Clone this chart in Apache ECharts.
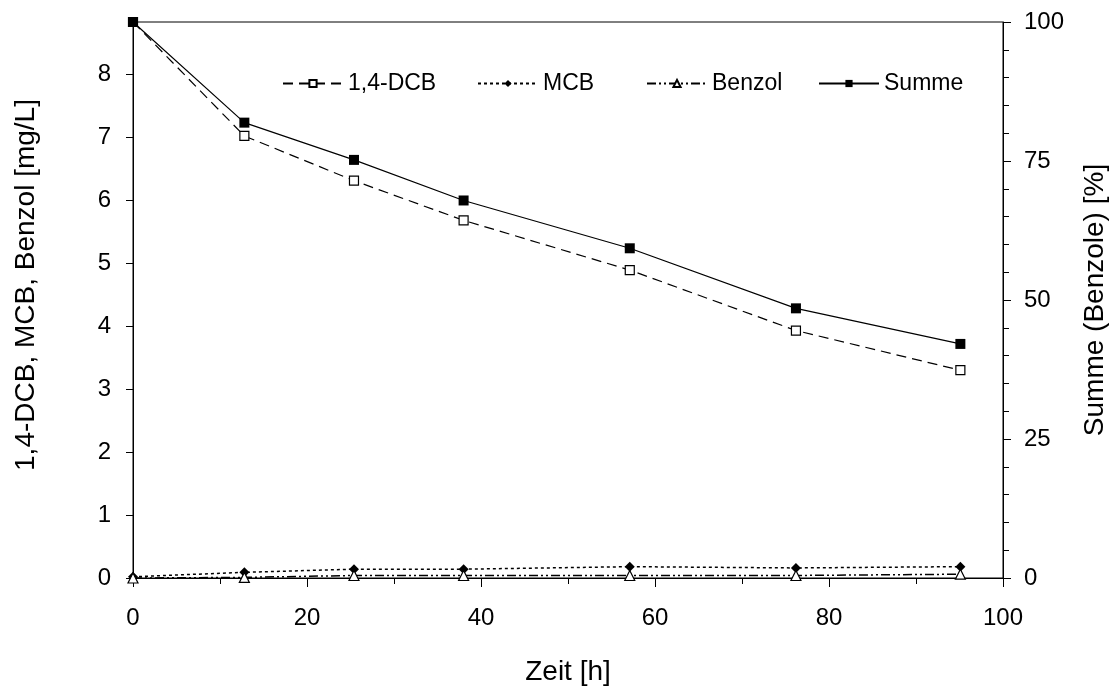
<!DOCTYPE html>
<html>
<head>
<meta charset="utf-8">
<script src="https://cdn.jsdelivr.net/npm/echarts@6/dist/echarts.min.js"></script>
<style>
html,body{margin:0;padding:0;background:#fff;}
#chart{width:1114px;height:693px;}
</style>
</head>
<body>
<div id="chart"></div>
<script>
// Data
var zeit = [0, 12.8, 25.4, 38.0, 57.1, 76.2, 95.1];
var dcb = [8.83, 7.02, 6.31, 5.68, 4.89, 3.93, 3.30];
var mcb = [0.02, 0.09, 0.14, 0.14, 0.18, 0.16, 0.18];
var benzol = [0.00, 0.01, 0.04, 0.04, 0.04, 0.04, 0.06];
var summe = [100, 81.9, 75.2, 67.9, 59.3, 48.5, 42.1];
var seriesNames = ['1,4-DCB', 'MCB', 'Benzol', 'Summe'];
var xTitle = 'Zeit [h]';
var yLeftTitle = '1,4-DCB, MCB, Benzol [mg/L]';
var yRightTitle = 'Summe (Benzole) [%]';

function pairs(xs, ys) { return xs.map(function (x, i) { return [x, ys[i]]; }); }

var font = 'Liberation Sans, Arial, sans-serif';
var legendLefts = [282, 477, 646, 818];
var legends = seriesNames.map(function (n, i) {
  return {
    data: [n],
    left: legendLefts[i], top: 72, padding: 0,
    itemWidth: 60, itemHeight: 9, itemGap: 0,
    textStyle: {fontFamily: font, fontSize: 23, color: '#000'},
    inactiveColor: '#000', selectedMode: false
  };
});

var chart = echarts.init(document.getElementById('chart'), null, {renderer: 'canvas'});
chart.setOption({
  animation: false,
  backgroundColor: '#fff',
  textStyle: {fontFamily: font, color: '#000'},
  grid: {left: 133, right: 111, top: 22, bottom: 115, outerBoundsMode: 'none', containLabel: false,
    show: true, borderColor: '#000', borderWidth: 1, backgroundColor: 'transparent'},
  legend: legends,
  xAxis: {
    type: 'value', min: 0, max: 100, interval: 20,
    name: xTitle, nameLocation: 'middle', nameGap: 80,
    nameTextStyle: {fontFamily: font, fontSize: 28, color: '#000'},
    axisLine: {show: true, onZero: false, lineStyle: {color: '#000', width: 1}},
    axisTick: {show: true, inside: false, length: 9, lineStyle: {color: '#000'}},
    minorTick: {show: true, splitNumber: 2, length: 6, lineStyle: {color: '#000'}},
    splitLine: {show: false},
    axisLabel: {fontFamily: font, fontSize: 24, color: '#000', margin: 28}
  },
  yAxis: [{
    type: 'value', min: 0, max: 8.83, interval: 1, position: 'left',
    name: yLeftTitle, nameLocation: 'middle', nameGap: 93, nameRotate: 90,
    nameTextStyle: {fontFamily: font, fontSize: 28, color: '#000', padding: [0, 0, 0, 30]},
    axisLine: {show: true, onZero: false, lineStyle: {color: '#000', width: 1}},
    axisTick: {show: true, inside: false, length: 7, lineStyle: {color: '#000'}},
    splitLine: {show: false},
    axisLabel: {fontFamily: font, fontSize: 24, color: '#000', margin: 22, showMaxLabel: false,
      formatter: function (v) { return Math.abs(v - Math.round(v)) < 1e-6 ? String(Math.round(v)) : ''; }}
  }, {
    type: 'value', min: 0, max: 100, interval: 25, position: 'right',
    name: yRightTitle, nameLocation: 'middle', nameGap: 78, nameRotate: 90,
    nameTextStyle: {fontFamily: font, fontSize: 28, color: '#000'},
    axisLine: {show: true, onZero: false, lineStyle: {color: '#000', width: 1}},
    axisTick: {show: true, inside: false, length: 8, lineStyle: {color: '#000'}},
    minorTick: {show: true, splitNumber: 5, length: 6, lineStyle: {color: '#000'}},
    splitLine: {show: false},
    axisLabel: {fontFamily: font, fontSize: 24, color: '#000', margin: 21}
  }],
  series: [{
    name: seriesNames[0], type: 'line', yAxisIndex: 0,
    data: pairs(zeit, dcb),
    symbol: 'rect', symbolSize: 9, showAllSymbol: true,
    lineStyle: {color: '#000', width: 1.2, type: [10, 6]},
    itemStyle: {color: '#fff', borderColor: '#000', borderWidth: 1.2},
    z: 3
  }, {
    name: seriesNames[1], type: 'line', yAxisIndex: 0,
    data: pairs(zeit, mcb),
    symbol: 'diamond', symbolSize: 10, showAllSymbol: true,
    lineStyle: {color: '#000', width: 1.5, type: [3, 3]},
    itemStyle: {color: '#000', borderColor: '#000', borderWidth: 0},
    z: 3
  }, {
    name: seriesNames[2], type: 'line', yAxisIndex: 0,
    data: pairs(zeit, benzol),
    symbol: 'triangle', symbolSize: 10, showAllSymbol: true,
    lineStyle: {color: '#000', width: 1.5, type: [9, 3, 2, 3, 2, 3]},
    itemStyle: {color: '#fff', borderColor: '#000', borderWidth: 1.2},
    z: 4
  }, {
    name: seriesNames[3], type: 'line', yAxisIndex: 1,
    data: pairs(zeit, summe),
    symbol: 'rect', symbolSize: 10, showAllSymbol: true,
    lineStyle: {color: '#000', width: 1.2, type: 'solid'},
    itemStyle: {color: '#000', borderColor: '#000', borderWidth: 0},
    z: 5
  }]
});
</script>
</body>
</html>
